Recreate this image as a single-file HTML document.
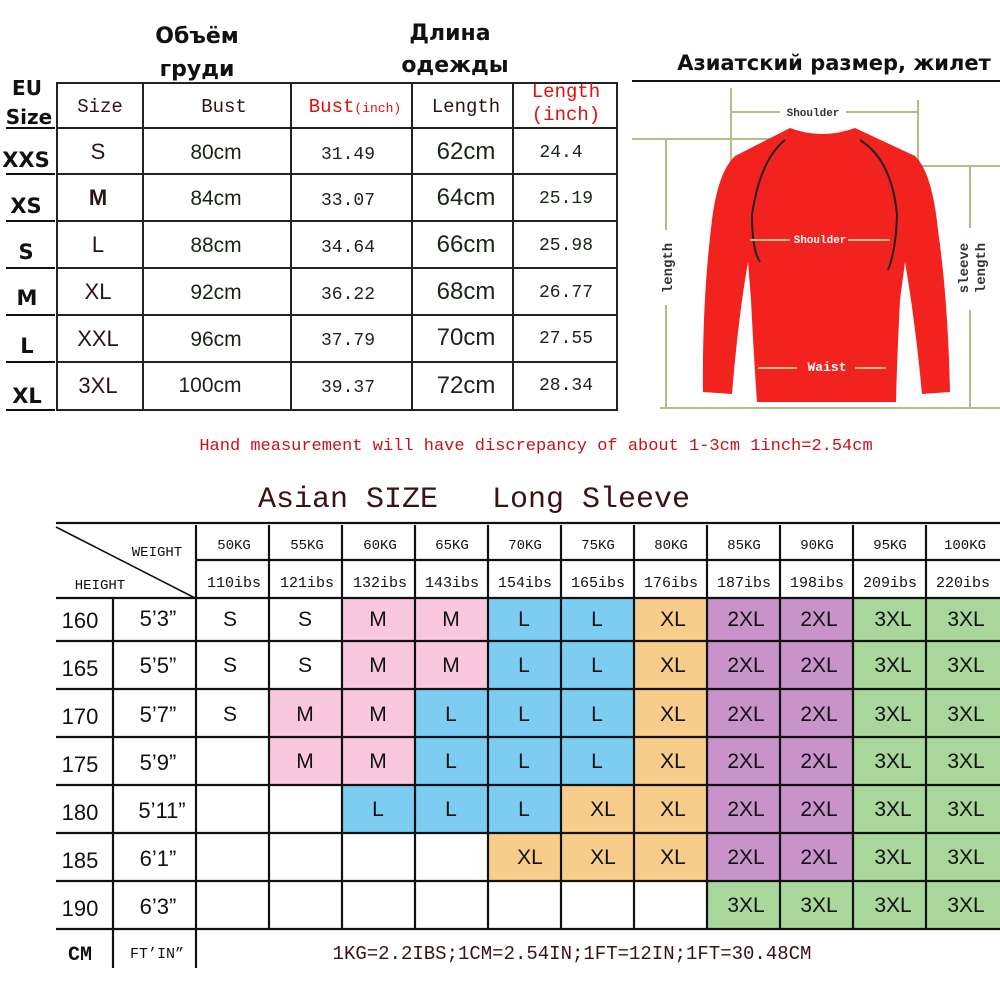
<!DOCTYPE html>
<html><head><meta charset="utf-8"><style>
html,body{margin:0;padding:0;background:#fff;}
svg{display:block;}
</style></head><body>
<svg width="1000" height="1000" viewBox="0 0 1000 1000" xmlns="http://www.w3.org/2000/svg" font-family="Liberation Sans, DejaVu Sans, sans-serif">
<rect width="1000" height="1000" fill="#fff"/>
<g font-weight="bold" font-size="22" fill="#111" text-anchor="middle" font-family="DejaVu Sans, sans-serif">
<text x="197" y="43">Объём</text><text x="197" y="76">груди</text>
<text x="450" y="40">Длина</text><text x="455" y="72">одежды</text>
<text x="834" y="70" font-size="21">Азиатский размер, жилет</text>
<text x="27" y="95" font-size="20">EU</text><text x="29" y="124" font-size="20">Size</text>
<text x="26" y="167" font-size="21">XXS</text><text x="26" y="213" font-size="21">XS</text>
<text x="26" y="259" font-size="21">S</text><text x="27" y="305" font-size="21">M</text>
<text x="27" y="353" font-size="21">L</text><text x="27" y="403" font-size="21">XL</text>
</g>
<g stroke="#111" stroke-width="2">
<line x1="6" y1="128" x2="55" y2="128"/><line x1="6" y1="174" x2="55" y2="174"/><line x1="6" y1="221" x2="55" y2="221"/><line x1="6" y1="268" x2="55" y2="268"/><line x1="6" y1="315" x2="55" y2="315"/><line x1="6" y1="362" x2="55" y2="362"/><line x1="6" y1="410" x2="55" y2="410"/>
</g>
<g stroke="#222" stroke-width="2" fill="none">
<rect x="57" y="83" width="560" height="327"/>
<line x1="143" y1="83" x2="143" y2="410"/><line x1="291" y1="83" x2="291" y2="410"/><line x1="412" y1="83" x2="412" y2="410"/><line x1="513" y1="83" x2="513" y2="410"/>
<line x1="57" y1="128" x2="617" y2="128"/><line x1="57" y1="174" x2="617" y2="174"/><line x1="57" y1="221" x2="617" y2="221"/><line x1="57" y1="268" x2="617" y2="268"/><line x1="57" y1="315" x2="617" y2="315"/><line x1="57" y1="362" x2="617" y2="362"/>
</g>
<g font-family="Liberation Mono, DejaVu Sans Mono, monospace" text-anchor="middle" font-size="19" fill="#2a1414">
<text x="100" y="112">Size</text><text x="224" y="112">Bust</text>
<text x="355" y="112" fill="#e01010">Bust<tspan font-size="13">(inch)</tspan></text>
<text x="466" y="112">Length</text>
<text x="566" y="97" fill="#e01010">Length</text><text x="566" y="120" fill="#e01010">(inch)</text>
</g>
<g text-anchor="middle" fill="#2a1414" font-size="22">
<text x="98" y="159">S</text><text x="98" y="205" font-weight="bold">M</text><text x="98" y="252">L</text><text x="98" y="299">XL</text><text x="98" y="346">XXL</text><text x="98" y="393">3XL</text>
</g>
<g text-anchor="middle" fill="#1a2418" font-size="21">
<text x="216" y="159">80cm</text><text x="216" y="205">84cm</text><text x="216" y="252">88cm</text><text x="216" y="299">92cm</text><text x="210" y="392">100cm</text><text x="216" y="346">96cm</text>
<text x="466" y="159" font-size="24">62cm</text><text x="466" y="205" font-size="24">64cm</text><text x="466" y="252" font-size="24">66cm</text><text x="466" y="299" font-size="24">68cm</text><text x="466" y="345" font-size="24">70cm</text><text x="466" y="393" font-size="24">72cm</text>
</g>
<g font-family="Liberation Mono, monospace" text-anchor="middle" fill="#1a2418" font-size="18">
<text x="348" y="159">31.49</text><text x="348" y="205">33.07</text><text x="348" y="252">34.64</text><text x="348" y="299">36.22</text><text x="348" y="345">37.79</text><text x="348" y="392">39.37</text>
<text x="561" y="157">24.4</text><text x="566" y="203">25.19</text><text x="566" y="250">25.98</text><text x="566" y="297">26.77</text><text x="566" y="343">27.55</text><text x="566" y="390">28.34</text>
</g>
<line x1="632" y1="81" x2="1000" y2="81" stroke="#111" stroke-width="2"/>
<g stroke="#b5bc8a" stroke-width="2" fill="none">
<line x1="731" y1="88" x2="731" y2="182"/><line x1="918" y1="100" x2="918" y2="182"/>
<line x1="731" y1="112" x2="780" y2="112"/><line x1="846" y1="112" x2="918" y2="112"/>
<line x1="632" y1="139" x2="795" y2="139"/><line x1="666" y1="139" x2="666" y2="230"/><line x1="666" y1="305" x2="666" y2="407"/>
<line x1="660" y1="408" x2="1000" y2="408"/><line x1="905" y1="166" x2="1000" y2="166"/><line x1="970" y1="166" x2="970" y2="228"/><line x1="970" y1="310" x2="970" y2="408"/>
</g>
<path d="M790,128 Q822,140 855,128 L915,156 Q932,172 938,230 Q948,300 950,392 L922,394 Q915,320 905,262 L900,300 Q897,360 896,402 L757,402 Q754,360 751,300 L748,262 Q738,320 732,394 L703,392 Q702,300 712,220 Q718,172 735,156 Z" fill="#f2231f"/>
<path d="M785,140 Q760,160 752,215 Q752,250 760,262" stroke="#222" stroke-width="2" fill="none"/>
<path d="M860,140 Q892,160 897,215 Q896,250 888,270" stroke="#222" stroke-width="2" fill="none"/>
<g stroke="#b5bc8a" stroke-width="2"><line x1="750" y1="240" x2="790" y2="240"/><line x1="848" y1="240" x2="890" y2="240"/><line x1="758" y1="368" x2="797" y2="368"/><line x1="855" y1="368" x2="886" y2="368"/></g>
<g font-family="Liberation Mono, monospace" font-weight="bold" font-size="11" text-anchor="middle">
<text x="813" y="116" fill="#333">Shoulder</text><text x="820" y="243" fill="#fff">Shoulder</text><text x="827" y="371" fill="#fff" font-size="13">Waist</text>
<text transform="translate(672,268) rotate(-90)" fill="#333" font-size="14">length</text>
<text transform="translate(968,268) rotate(-90)" fill="#333" font-size="14">sleeve</text>
<text transform="translate(985,268) rotate(-90)" fill="#333" font-size="14">length</text>
</g>
<text x="536" y="450" text-anchor="middle" font-family="Liberation Mono, monospace" font-size="17" fill="#c8101a">Hand measurement will have discrepancy of about 1-3cm 1inch=2.54cm</text>
<text x="474" y="507" text-anchor="middle" font-family="Liberation Mono, monospace" font-size="30" fill="#3a1212" xml:space="preserve">Asian SIZE   Long Sleeve</text>
<g>
<rect x="342" y="598" width="146" height="91" fill="#f9c8de"/><rect x="269" y="689" width="146" height="48" fill="#f9c8de"/><rect x="269" y="737" width="146" height="48" fill="#f9c8de"/>
<rect x="488" y="598" width="146" height="187" fill="#7dcdf2"/><rect x="415" y="689" width="73" height="96" fill="#7dcdf2"/><rect x="342" y="785" width="219" height="48" fill="#7dcdf2"/>
<rect x="342" y="737" width="73" height="48" fill="#f9c8de"/>
<rect x="634" y="598" width="73" height="235" fill="#f8cd8b"/><rect x="561" y="785" width="73" height="48" fill="#f8cd8b"/><rect x="488" y="833" width="219" height="48" fill="#f8cd8b"/>
<rect x="707" y="598" width="146" height="283" fill="#c793c8"/>
<rect x="853" y="598" width="147" height="331" fill="#a9d69a"/><rect x="707" y="881" width="146" height="48" fill="#a9d69a"/>
</g>
<g stroke="#111" stroke-width="2.2" fill="none">
<line x1="56" y1="523" x2="1000" y2="523"/>
<line x1="196" y1="560" x2="1000" y2="560"/>
<line x1="56" y1="598" x2="1000" y2="598"/><line x1="56" y1="641" x2="1000" y2="641"/><line x1="56" y1="689" x2="1000" y2="689"/><line x1="56" y1="737" x2="1000" y2="737"/><line x1="56" y1="785" x2="1000" y2="785"/><line x1="56" y1="833" x2="1000" y2="833"/><line x1="56" y1="881" x2="1000" y2="881"/><line x1="56" y1="929" x2="1000" y2="929"/>
<line x1="113" y1="598" x2="113" y2="968"/><line x1="196" y1="525" x2="196" y2="968"/>
<line x1="269" y1="525" x2="269" y2="929"/><line x1="342" y1="525" x2="342" y2="929"/><line x1="415" y1="525" x2="415" y2="929"/><line x1="488" y1="525" x2="488" y2="929"/><line x1="561" y1="525" x2="561" y2="929"/><line x1="634" y1="525" x2="634" y2="929"/><line x1="707" y1="525" x2="707" y2="929"/><line x1="780" y1="525" x2="780" y2="929"/><line x1="853" y1="525" x2="853" y2="929"/><line x1="926" y1="525" x2="926" y2="929"/>
<line x1="56" y1="527" x2="195" y2="598" stroke-width="1.6"/>
</g>
<g font-family="Liberation Mono, monospace" font-size="14" fill="#111" text-anchor="middle">
<text x="157" y="556">WEIGHT</text><text x="100" y="589">HEIGHT</text>
<text x="234" y="549">50KG</text><text x="307" y="549">55KG</text><text x="380" y="549">60KG</text><text x="452" y="549">65KG</text><text x="525" y="549">70KG</text><text x="598" y="549">75KG</text><text x="671" y="549">80KG</text><text x="744" y="549">85KG</text><text x="817" y="549">90KG</text><text x="890" y="549">95KG</text><text x="965" y="549">100KG</text>
<g font-size="15"><text x="234" y="587">110ibs</text><text x="307" y="587">121ibs</text><text x="380" y="587">132ibs</text><text x="452" y="587">143ibs</text><text x="525" y="587">154ibs</text><text x="598" y="587">165ibs</text><text x="671" y="587">176ibs</text><text x="744" y="587">187ibs</text><text x="817" y="587">198ibs</text><text x="890" y="587">209ibs</text><text x="963" y="587">220ibs</text></g>
</g>
<g font-size="22" fill="#111" text-anchor="middle">
<text x="80" y="628">160</text><text x="80" y="676">165</text><text x="80" y="724">170</text><text x="80" y="772">175</text><text x="80" y="820">180</text><text x="80" y="868">185</text><text x="80" y="916">190</text>
<text x="158" y="626">5’3”</text><text x="158" y="673">5’5”</text><text x="158" y="722">5’7”</text><text x="158" y="770">5’9”</text><text x="162" y="818">5’11”</text><text x="158" y="866">6’1”</text><text x="158" y="914">6’3”</text>
<text x="80" y="960" font-family="Liberation Mono, monospace" font-weight="bold" font-size="20">CM</text>
<text x="157" y="958" font-family="Liberation Mono, monospace" font-size="15">FT’IN”</text>
</g>
<g font-size="21" fill="#111" text-anchor="middle">
<text x="230" y="626">S</text><text x="305" y="626">S</text><text x="378" y="626">M</text><text x="451" y="626">M</text><text x="524" y="626">L</text><text x="597" y="626">L</text><text x="673" y="626">XL</text><text x="746" y="626">2XL</text><text x="819" y="626">2XL</text><text x="893" y="626">3XL</text><text x="966" y="626">3XL</text>
<text x="230" y="672">S</text><text x="305" y="672">S</text><text x="378" y="672">M</text><text x="451" y="672">M</text><text x="524" y="672">L</text><text x="597" y="672">L</text><text x="673" y="672">XL</text><text x="746" y="672">2XL</text><text x="819" y="672">2XL</text><text x="893" y="672">3XL</text><text x="966" y="672">3XL</text>
<text x="230" y="721">S</text><text x="305" y="721">M</text><text x="378" y="721">M</text><text x="451" y="721">L</text><text x="524" y="721">L</text><text x="597" y="721">L</text><text x="673" y="721">XL</text><text x="746" y="721">2XL</text><text x="819" y="721">2XL</text><text x="893" y="721">3XL</text><text x="966" y="721">3XL</text>
<text x="305" y="768">M</text><text x="378" y="768">M</text><text x="451" y="768">L</text><text x="524" y="768">L</text><text x="597" y="768">L</text><text x="673" y="768">XL</text><text x="746" y="768">2XL</text><text x="819" y="768">2XL</text><text x="893" y="768">3XL</text><text x="966" y="768">3XL</text>
<text x="378" y="816">L</text><text x="451" y="816">L</text><text x="524" y="816">L</text><text x="603" y="816">XL</text><text x="673" y="816">XL</text><text x="746" y="816">2XL</text><text x="819" y="816">2XL</text><text x="893" y="816">3XL</text><text x="966" y="816">3XL</text>
<text x="530" y="864">XL</text><text x="603" y="864">XL</text><text x="673" y="864">XL</text><text x="746" y="864">2XL</text><text x="819" y="864">2XL</text><text x="893" y="864">3XL</text><text x="966" y="864">3XL</text>
<text x="746" y="912">3XL</text><text x="819" y="912">3XL</text><text x="893" y="912">3XL</text><text x="966" y="912">3XL</text>
</g>
<text x="572" y="959" text-anchor="middle" font-family="Liberation Mono, monospace" font-size="19" fill="#3a1212">1KG=2.2IBS;1CM=2.54IN;1FT=12IN;1FT=30.48CM</text>
</svg>
</body></html>
